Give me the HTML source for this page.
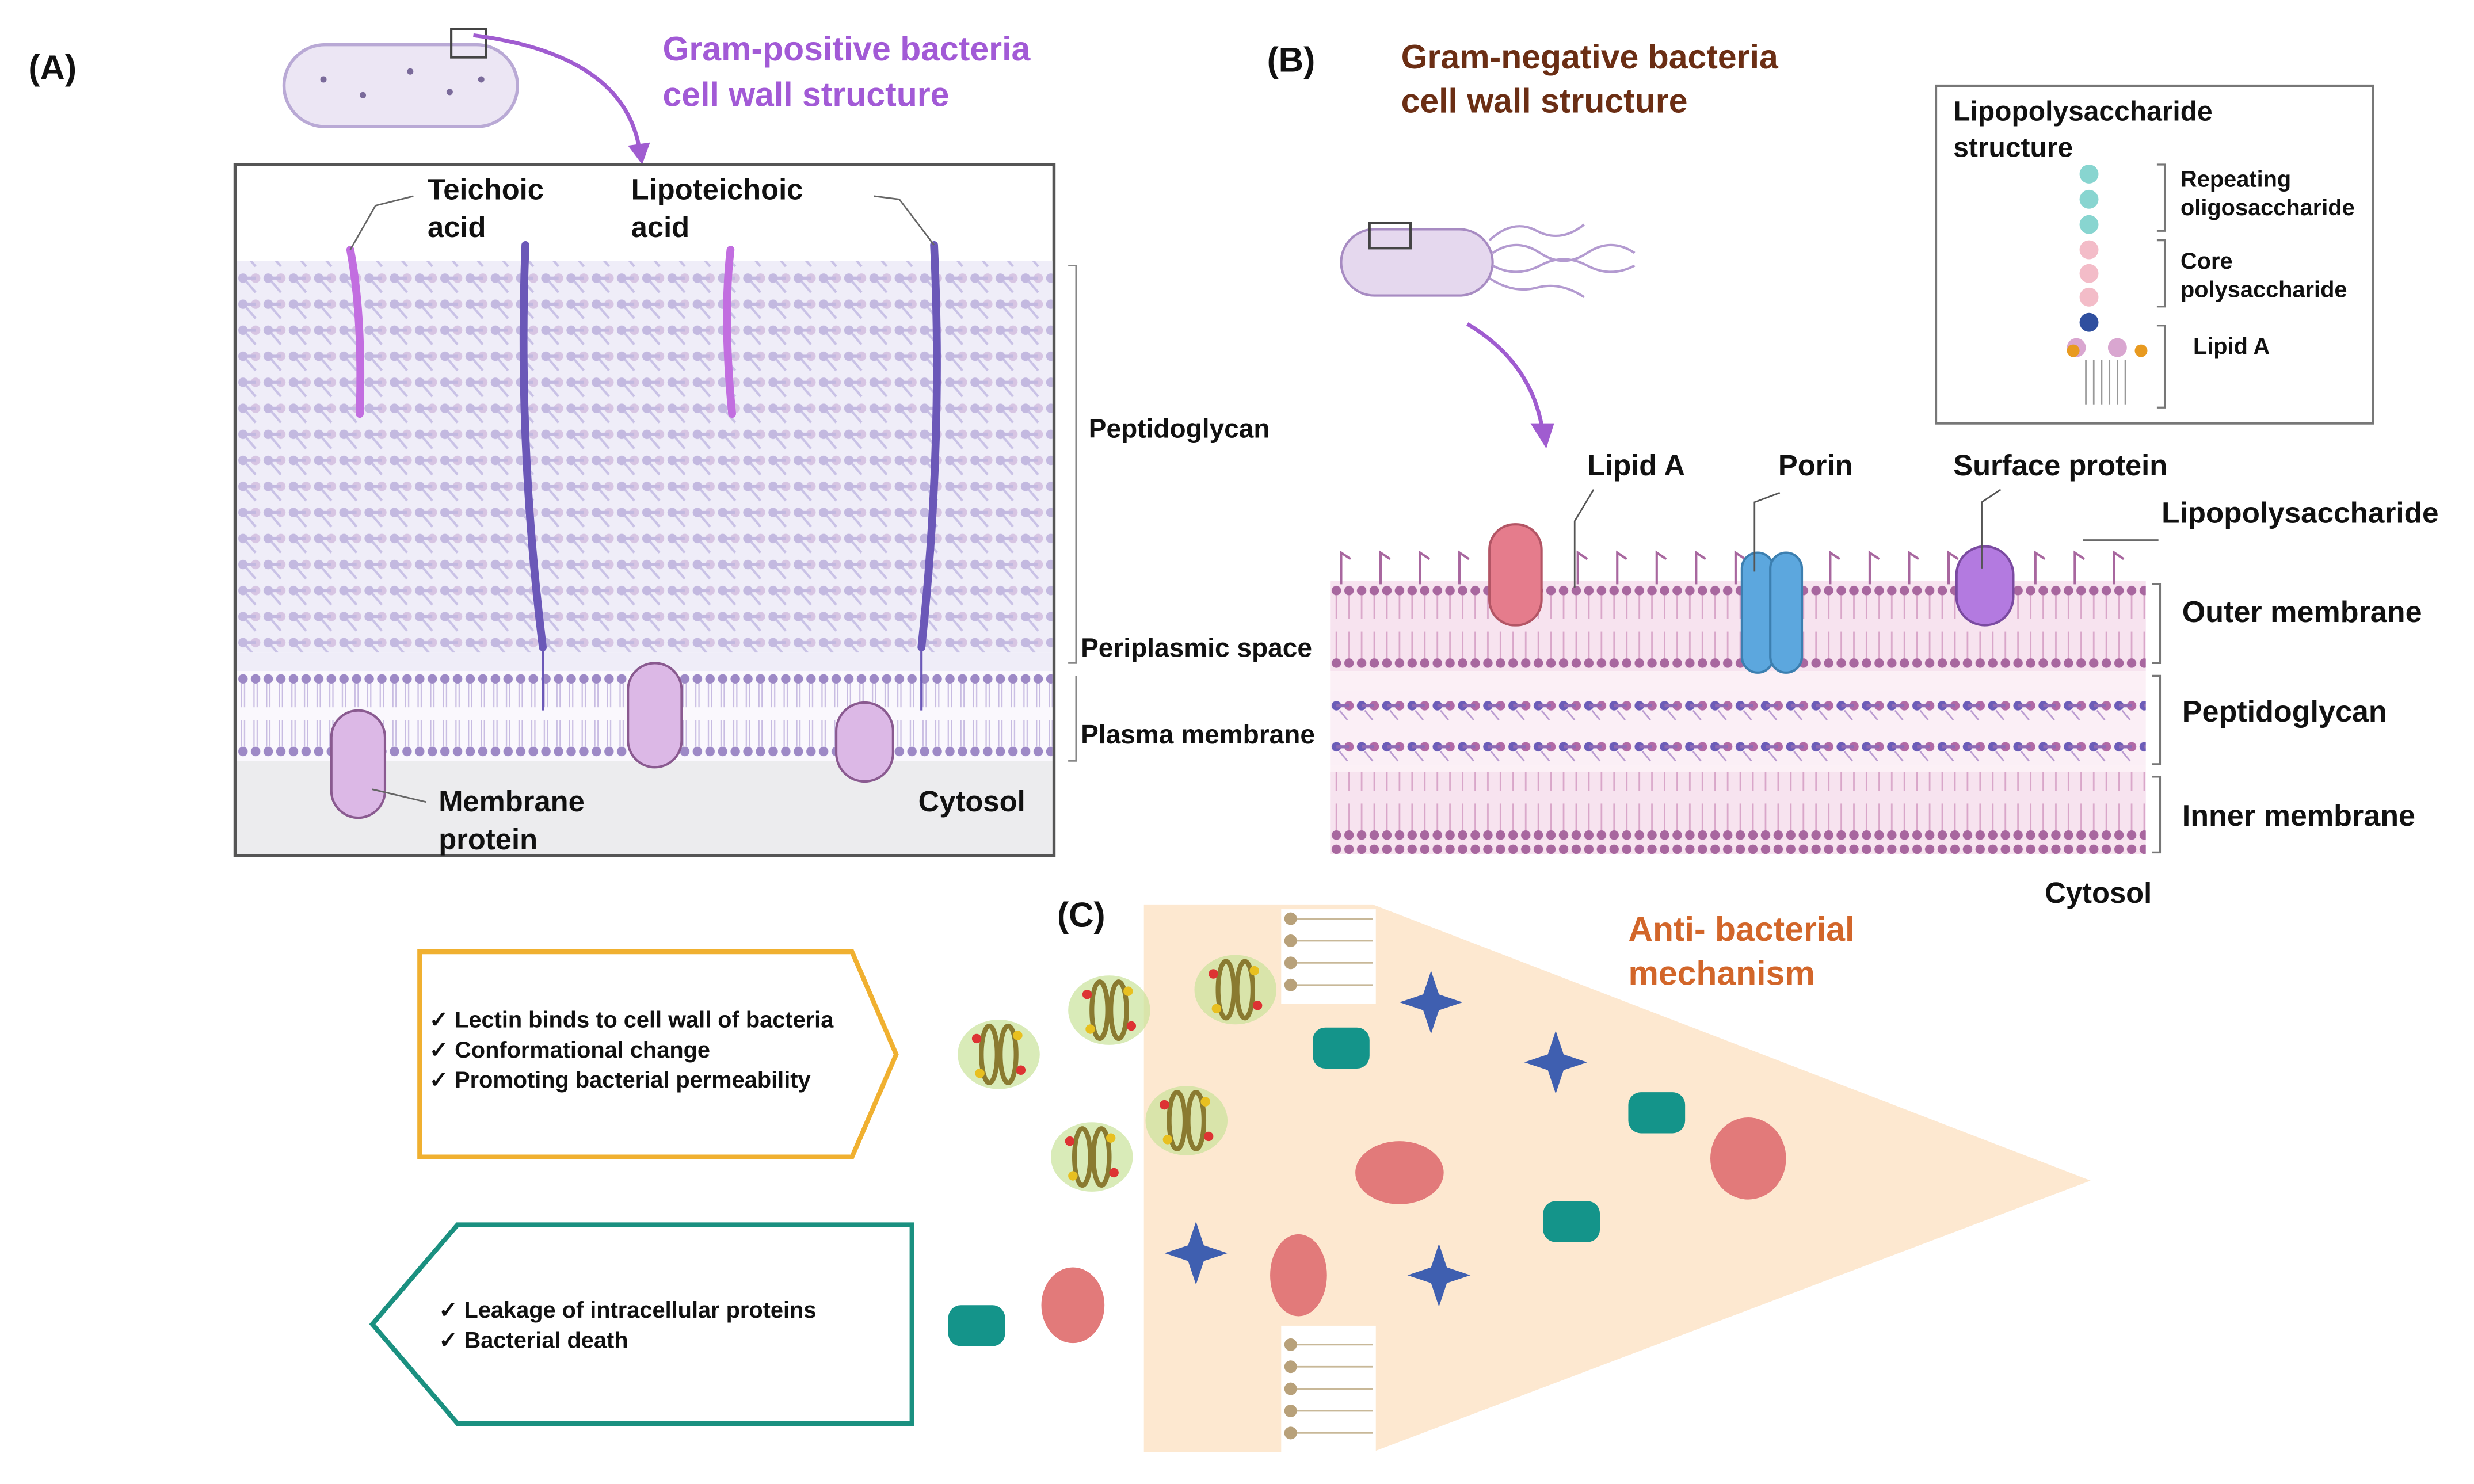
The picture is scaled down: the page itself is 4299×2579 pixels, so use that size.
<!DOCTYPE html>
<html><head><meta charset="utf-8"><style>
html,body{margin:0;padding:0;background:#fff}
svg{display:block}
text{font-family:"Liberation Sans",Arial,sans-serif;font-weight:bold}
</style></head><body>
<svg width="4299" height="2579" viewBox="0 0 1568 940" xmlns="http://www.w3.org/2000/svg">
<defs>
<pattern id="pg" x="150" y="172" width="16" height="16.5" patternUnits="userSpaceOnUse">
<rect width="16" height="16.5" fill="#efedf8"/>
<circle cx="4" cy="4" r="3" fill="#c3b9e0"/><circle cx="12" cy="4" r="3" fill="#d7c5e3"/>
<line x1="4" y1="4" x2="12" y2="4" stroke="#c3b9e0" stroke-width="2"/>
<line x1="6" y1="6" x2="12" y2="13" stroke="#c9c2e6" stroke-width="1.5"/>
</pattern>
<pattern id="mem" x="150" y="426" width="8" height="56" patternUnits="userSpaceOnUse">
<rect width="8" height="56" fill="#faf8fd"/>
<circle cx="4" cy="4" r="3" fill="#9d89c6"/><line x1="3" y1="7" x2="3" y2="22" stroke="#c8bce2" stroke-width="0.8"/><line x1="5" y1="7" x2="5" y2="22" stroke="#c8bce2" stroke-width="0.8"/>
<circle cx="4" cy="50" r="3" fill="#9d89c6"/><line x1="3" y1="30" x2="3" y2="47" stroke="#c8bce2" stroke-width="0.8"/><line x1="5" y1="30" x2="5" y2="47" stroke="#c8bce2" stroke-width="0.8"/>
</pattern>
<pattern id="bmem" x="843" y="370" width="8" height="55" patternUnits="userSpaceOnUse">
<rect width="8" height="55" fill="#f7e3ef"/>
<circle cx="4" cy="4" r="3" fill="#a8679f"/><line x1="4" y1="7" x2="4" y2="22" stroke="#d9a6c9" stroke-width="1"/>
<circle cx="4" cy="50" r="3" fill="#a8679f"/><line x1="4" y1="30" x2="4" y2="47" stroke="#d9a6c9" stroke-width="1"/>
</pattern>
<pattern id="bpg" x="843" y="443" width="16" height="26" patternUnits="userSpaceOnUse">
<rect width="16" height="26" fill="#fbeff6"/>
<circle cx="4" cy="4" r="3" fill="#6b5cb8"/><circle cx="12" cy="4" r="3" fill="#b26aa6"/>
<line x1="4" y1="4" x2="12" y2="4" stroke="#8f6bb5" stroke-width="2"/>
<line x1="6" y1="7" x2="11" y2="13" stroke="#b99ad0" stroke-width="1"/>
</pattern>
<g id="lectin"><ellipse cx="0" cy="0" rx="26" ry="22" fill="#c9e39a" opacity="0.7"/><ellipse cx="-6" cy="0" rx="5" ry="18" fill="none" stroke="#8a7a30" stroke-width="3"/><ellipse cx="6" cy="0" rx="5" ry="18" fill="none" stroke="#8a7a30" stroke-width="3"/><circle cx="-14" cy="-10" r="3" fill="#d33"/><circle cx="14" cy="10" r="3" fill="#d33"/><circle cx="12" cy="-12" r="3" fill="#e8c020"/><circle cx="-12" cy="12" r="3" fill="#e8c020"/></g>
<g id="star"><path d="M0,-20 L5,-5 L20,0 L5,5 L0,20 L-5,5 L-20,0 L-5,-5 Z" fill="#3f5fb0"/></g>
<g id="pill"><rect x="-18" y="-13" width="36" height="26" rx="8" fill="#14948a"/></g>
</defs>

<!-- Panel A -->
<text x="18" y="50" font-size="22" fill="#111">(A)</text>
<rect x="180" y="28" width="148" height="52" rx="26" fill="#ece6f4" stroke="#b9a9d5" stroke-width="2"/>
<g fill="#7a6a9a"><circle cx="205" cy="50" r="2"/><circle cx="230" cy="60" r="2"/><circle cx="260" cy="45" r="2"/><circle cx="285" cy="58" r="2"/><circle cx="305" cy="50" r="2"/></g>
<rect x="286" y="18" width="22" height="18" fill="none" stroke="#444" stroke-width="1.5"/>
<path d="M300,22 Q400,35 406,100" fill="none" stroke="#a05cd0" stroke-width="2.5"/>
<path d="M398,92 L407,104 L412,90" fill="#a05cd0"/>
<text x="420" y="38" font-size="21.5" fill="#a25ad6">Gram-positive bacteria</text>
<text x="420" y="67" font-size="21.5" fill="#a25ad6">cell wall structure</text>
<rect x="149" y="104" width="519" height="438" fill="#fff" stroke="#555" stroke-width="2"/>
<rect x="150" y="165" width="517" height="248" fill="url(#pg)"/>
<rect x="150" y="413" width="517" height="12" fill="#efedf8"/>
<rect x="150" y="425" width="517" height="57" fill="url(#mem)"/>
<rect x="150" y="482" width="517" height="59" fill="#ececee"/>
<path d="M222,158 Q230,200 228,262" fill="none" stroke="#c26ee0" stroke-width="5" stroke-linecap="round"/>
<path d="M463,158 Q458,200 464,262" fill="none" stroke="#c26ee0" stroke-width="5" stroke-linecap="round"/>
<path d="M333,155 Q328,280 344,410" fill="none" stroke="#6b58b8" stroke-width="5" stroke-linecap="round"/>
<path d="M592,155 Q598,280 584,410" fill="none" stroke="#6b58b8" stroke-width="5" stroke-linecap="round"/>
<line x1="344" y1="410" x2="344" y2="450" stroke="#6b58b8" stroke-width="1.5"/>
<line x1="584" y1="410" x2="584" y2="450" stroke="#6b58b8" stroke-width="1.5"/>
<rect x="210" y="450" width="34" height="68" rx="17" fill="#dcb8e6" stroke="#8a5a90" stroke-width="1.5"/>
<rect x="398" y="420" width="34" height="66" rx="17" fill="#dcb8e6" stroke="#8a5a90" stroke-width="1.5"/>
<rect x="530" y="445" width="36" height="50" rx="18" fill="#dcb8e6" stroke="#8a5a90" stroke-width="1.5"/>
<polyline points="222,158 238,130 262,124" fill="none" stroke="#666" stroke-width="1"/>
<polyline points="592,155 570,126 554,124" fill="none" stroke="#666" stroke-width="1"/>
<line x1="236" y1="500" x2="270" y2="508" stroke="#666" stroke-width="1"/>
<text x="271" y="126" font-size="18.5" fill="#111">Teichoic</text>
<text x="271" y="150" font-size="18.5" fill="#111">acid</text>
<text x="400" y="126" font-size="18.5" fill="#111">Lipoteichoic</text>
<text x="400" y="150" font-size="18.5" fill="#111">acid</text>
<text x="278" y="514" font-size="18.5" fill="#111">Membrane</text>
<text x="278" y="538" font-size="18.5" fill="#111">protein</text>
<text x="582" y="514" font-size="18.5" fill="#111">Cytosol</text>
<path d="M677,168 L682,168 L682,420 L677,420 M682,428 L682,482 L677,482" fill="none" stroke="#888" stroke-width="1"/>
<text x="690" y="277" font-size="16.8" fill="#111">Peptidoglycan</text>
<text x="685" y="416" font-size="16.8" fill="#111">Periplasmic space</text>
<text x="685" y="471" font-size="16.8" fill="#111">Plasma membrane</text>

<!-- Panel B -->
<text x="803" y="45" font-size="22" fill="#111">(B)</text>
<text x="888" y="43" font-size="21.5" fill="#6b2e14">Gram-negative bacteria</text>
<text x="888" y="71" font-size="21.5" fill="#6b2e14">cell wall structure</text>
<rect x="850" y="145" width="96" height="42" rx="21" fill="#e5d8ee" stroke="#a78bc2" stroke-width="1.5"/>
<rect x="868" y="141" width="26" height="16" fill="none" stroke="#444" stroke-width="1.5"/>
<path d="M946,160 q15,-10 30,0 t30,0 t30,0 M946,168 q15,8 30,0 t30,0 t30,0 M944,152 q15,-14 30,-6 t30,-4 M944,176 q15,10 30,6 t30,6" fill="none" stroke="#b39ad0" stroke-width="1.5"/>
<path d="M930,205 Q972,230 978,275" fill="none" stroke="#a05cd0" stroke-width="2.5"/>
<path d="M970,268 L980,284 L985,268" fill="#a05cd0"/>
<rect x="1227" y="54" width="277" height="214" fill="#fff" stroke="#777" stroke-width="1.5"/>
<text x="1238" y="76" font-size="17.5" fill="#111">Lipopolysaccharide</text>
<text x="1238" y="99" font-size="17.5" fill="#111">structure</text>
<g fill="#88d5d0"><circle cx="1324" cy="110" r="6"/><circle cx="1324" cy="126" r="6"/><circle cx="1324" cy="142" r="6"/></g>
<g fill="#f3bcc8"><circle cx="1324" cy="158" r="6"/><circle cx="1324" cy="173" r="6"/><circle cx="1324" cy="188" r="6"/></g>
<circle cx="1324" cy="204" r="6" fill="#2f4f9f"/>
<circle cx="1316" cy="220" r="6" fill="#d9a6d0"/><circle cx="1342" cy="220" r="6" fill="#d9a6d0"/>
<circle cx="1314" cy="222" r="4" fill="#e89a20"/><circle cx="1357" cy="222" r="4" fill="#e89a20"/>
<g stroke="#999" stroke-width="1"><line x1="1322" y1="228" x2="1322" y2="256"/><line x1="1327" y1="228" x2="1327" y2="256"/><line x1="1332" y1="228" x2="1332" y2="256"/><line x1="1337" y1="228" x2="1337" y2="256"/><line x1="1342" y1="228" x2="1342" y2="256"/><line x1="1347" y1="228" x2="1347" y2="256"/></g>
<path d="M1367,104 l5,0 l0,42 l-5,0 M1367,152 l5,0 l0,42 l-5,0 M1367,206 l5,0 l0,52 l-5,0" fill="none" stroke="#777" stroke-width="1.2"/>
<text x="1382" y="118" font-size="14.5" fill="#111">Repeating</text>
<text x="1382" y="136" font-size="14.5" fill="#111">oligosaccharide</text>
<text x="1382" y="170" font-size="14.5" fill="#111">Core</text>
<text x="1382" y="188" font-size="14.5" fill="#111">polysaccharide</text>
<text x="1390" y="224" font-size="14.5" fill="#111">Lipid A</text>

<rect x="843" y="368" width="517" height="57" fill="url(#bmem)"/>
<rect x="843" y="425" width="517" height="12" fill="#fcf0f6"/>
<rect x="843" y="437" width="517" height="48" fill="url(#bpg)"/>
<rect x="843" y="485" width="517" height="6" fill="#fcf0f6"/>
<rect x="843" y="490" width="517" height="52" fill="url(#bmem)" transform="translate(0,-1)"/>
<g stroke="#a8679f" stroke-width="1.5" fill="none">
<path d="M850,370 v-20 l6,4 M875,370 v-20 l6,4 M900,370 v-20 l6,4 M925,370 v-20 l6,4 M1000,370 v-20 l6,4 M1025,370 v-20 l6,4 M1050,370 v-20 l6,4 M1075,370 v-20 l6,4 M1100,370 v-20 l6,4 M1160,370 v-20 l6,4 M1185,370 v-20 l6,4 M1210,370 v-20 l6,4 M1235,370 v-20 l6,4 M1290,370 v-20 l6,4 M1315,370 v-20 l6,4 M1340,370 v-20 l6,4"/>
</g>
<rect x="944" y="332" width="33" height="64" rx="16" fill="#e57c8c" stroke="#b35565" stroke-width="1.5"/>
<rect x="1104" y="350" width="20" height="76" rx="10" fill="#5ca7de" stroke="#3c7fb0" stroke-width="1.5"/>
<rect x="1122" y="350" width="20" height="76" rx="10" fill="#5ca7de" stroke="#3c7fb0" stroke-width="1.5"/>
<rect x="1240" y="346" width="36" height="50" rx="18" fill="#b37ae0" stroke="#7a4aa0" stroke-width="1.5"/>
<polyline points="998,372 998,330 1010,310" fill="none" stroke="#555" stroke-width="1"/>
<polyline points="1112,362 1112,318 1128,312" fill="none" stroke="#555" stroke-width="1"/>
<polyline points="1256,360 1256,318 1268,310" fill="none" stroke="#555" stroke-width="1"/>
<polyline points="1320,342 1368,342" fill="none" stroke="#555" stroke-width="1"/>
<text x="1006" y="301" font-size="18.5" fill="#111">Lipid A</text>
<text x="1127" y="301" font-size="18.5" fill="#111">Porin</text>
<text x="1238" y="301" font-size="18.5" fill="#111">Surface protein</text>
<text x="1370" y="331" font-size="18.7" fill="#111">Lipopolysaccharide</text>
<path d="M1364,370 l5,0 l0,50 l-5,0 M1364,428 l5,0 l0,56 l-5,0 M1364,492 l5,0 l0,48 l-5,0" fill="none" stroke="#777" stroke-width="1.2"/>
<text x="1383" y="394" font-size="19" fill="#111">Outer membrane</text>
<text x="1383" y="457" font-size="19" fill="#111">Peptidoglycan</text>
<text x="1383" y="523" font-size="19" fill="#111">Inner membrane</text>
<text x="1296" y="572" font-size="18.5" fill="#111">Cytosol</text>

<!-- Panel C -->
<polygon points="725,573 870,573 1325,748 870,920 725,920" fill="#fde8d0"/>
<text x="670" y="587" font-size="22" fill="#111">(C)</text>
<text x="1032" y="596" font-size="21.5" fill="#d2662a">Anti- bacterial</text>
<text x="1032" y="624" font-size="21.5" fill="#d2662a">mechanism</text>
<rect x="812" y="576" width="60" height="60" fill="#fff"/>
<rect x="812" y="840" width="60" height="80" fill="#fff"/>
<g fill="#b8a17a"><circle cx="818" cy="582" r="4"/><circle cx="818" cy="596" r="4"/><circle cx="818" cy="610" r="4"/><circle cx="818" cy="624" r="4"/><circle cx="818" cy="852" r="4"/><circle cx="818" cy="866" r="4"/><circle cx="818" cy="880" r="4"/><circle cx="818" cy="894" r="4"/><circle cx="818" cy="908" r="4"/></g>
<g stroke="#c8b898" stroke-width="1"><line x1="822" y1="582" x2="870" y2="582"/><line x1="822" y1="596" x2="870" y2="596"/><line x1="822" y1="610" x2="870" y2="610"/><line x1="822" y1="624" x2="870" y2="624"/><line x1="822" y1="852" x2="870" y2="852"/><line x1="822" y1="866" x2="870" y2="866"/><line x1="822" y1="880" x2="870" y2="880"/><line x1="822" y1="894" x2="870" y2="894"/><line x1="822" y1="908" x2="870" y2="908"/></g>
<polygon points="266,603 540,603 568,668 540,733 266,733" fill="#fff" stroke="#f0b030" stroke-width="3"/>
<text x="272" y="651" font-size="14.5" fill="#111">✓    Lectin binds to cell wall  of bacteria</text>
<text x="272" y="670" font-size="14.5" fill="#111">✓    Conformational  change</text>
<text x="272" y="689" font-size="14.5" fill="#111">✓    Promoting bacterial permeability</text>
<polygon points="290,776 578,776 578,902 290,902 236,839" fill="#fff" stroke="#1a9080" stroke-width="3"/>
<text x="278" y="835" font-size="14.5" fill="#111">✓    Leakage of intracellular  proteins</text>
<text x="278" y="854" font-size="14.5" fill="#111">✓    Bacterial death</text>
<use href="#lectin" x="633" y="668"/><use href="#lectin" x="703" y="640"/><use href="#lectin" x="783" y="627"/><use href="#lectin" x="692" y="733"/><use href="#lectin" x="752" y="710"/>
<use href="#star" x="907" y="635"/><use href="#star" x="986" y="673"/><use href="#star" x="758" y="794"/><use href="#star" x="912" y="808"/>
<use href="#pill" x="850" y="664"/><use href="#pill" x="1050" y="705"/><use href="#pill" x="996" y="774"/><use href="#pill" x="619" y="840"/>
<g fill="#e27a7a"><ellipse cx="887" cy="743" rx="28" ry="20"/><ellipse cx="1108" cy="734" rx="24" ry="26"/><ellipse cx="823" cy="808" rx="18" ry="26"/><ellipse cx="680" cy="827" rx="20" ry="24"/></g>
</svg>
</body></html>
